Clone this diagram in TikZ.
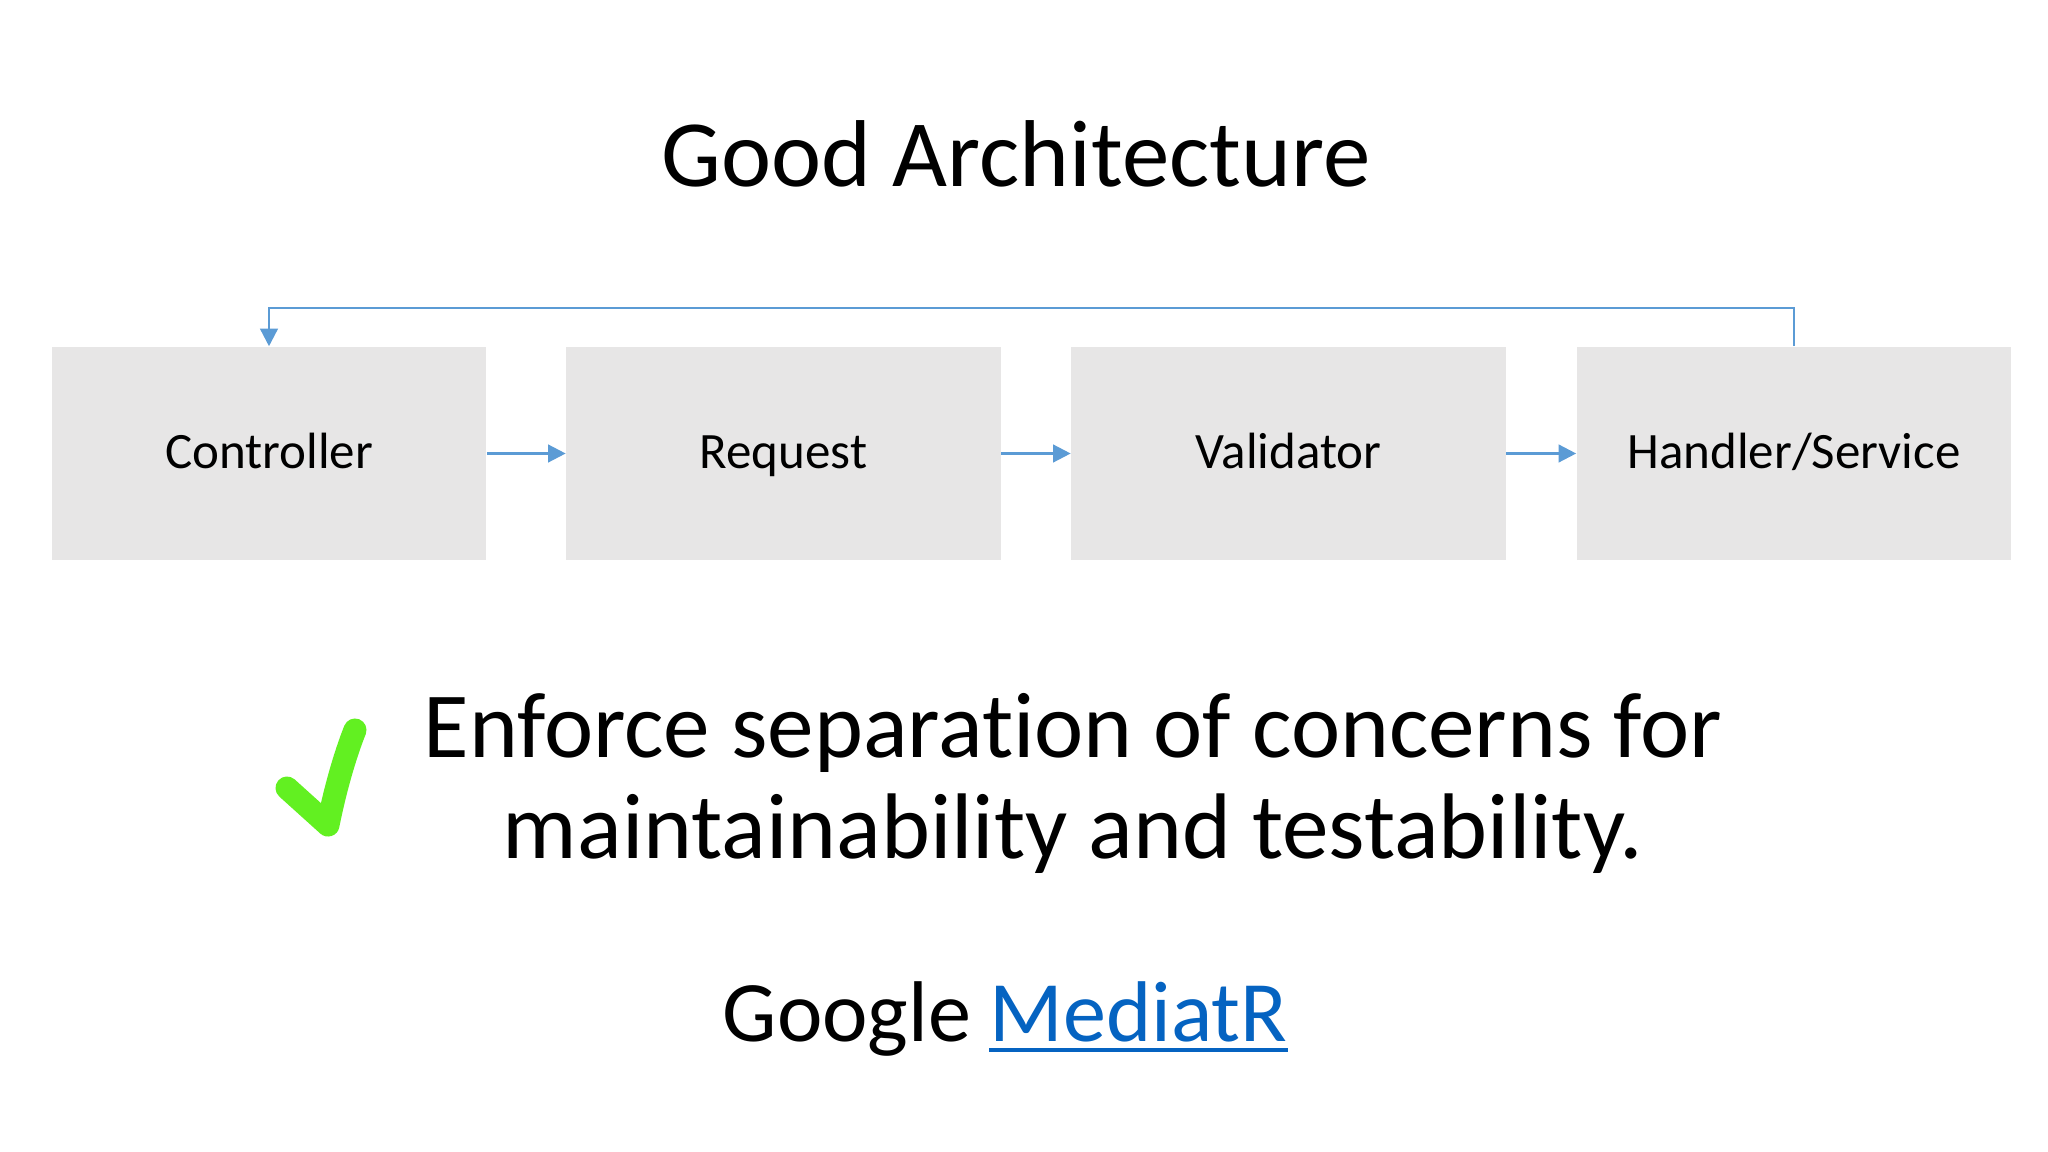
\documentclass[tikz,border=0pt]{standalone}
\usepackage{fontspec}
\setmainfont{Carlito}[Ligatures=NoCommon]
\usetikzlibrary{arrows.meta}
\definecolor{zgray}{HTML}{E7E6E6}
\definecolor{zblue}{HTML}{5B9BD5}
\definecolor{zlinkc}{HTML}{0563C1}
\definecolor{zgreen}{HTML}{62F021}

\begin{document}
\begin{tikzpicture}[x=.01cm, y=-.01cm, zbox/.style={fill=zgray, minimum width=4.34cm, minimum height=2.13cm, inner sep=0, text height=.3cm, text depth=0pt, font=\fontsize{14.5}{17}\selectfont}, zlink/.style={draw=zblue, line width=.7pt, -{Triangle[length=5pt, width=5pt]}}, ztxt/.style={anchor=base, inner sep=0, font=\fontsize{26.5}{32}\selectfont}]
  \useasboundingbox[fill=white] (0,0) rectangle (2048,1152);
  \node[anchor=base, inner sep=0, font=\fontsize{27}{32}\selectfont] (title) at (1016,187) {Good Architecture};
  \node[zbox] (ctrl) at (269,453.5) {Controller};
  \node[zbox] (req) at (783.5,453.5) {Request};
  \node[zbox] (val) at (1288.5,453.5) {Validator};
  \node[zbox] (hand) at (1794,453.5) {Handler/Service};
  \coordinate (top) at (0,308);
  \draw[zlink] (ctrl) -- (req);
  \draw[zlink] (req) -- (val);
  \draw[zlink] (val) -- (hand);
  \draw[zlink] (hand.north) -- (hand.north |- top) -| (ctrl.north);
  % check mark
  \draw[zgreen, line width=.23cm, line cap=round, line join=round] (287,788) -- (328,825) .. controls (335,790) and (345,755) .. (355,730);
  \node[ztxt] (line1) at (1073,757) {Enforce separation of concerns for};
  \node[ztxt] (line2) at (1073,858) {maintainability and testability.};
  \node[anchor=base west, inner sep=0, font=\fontsize{24.5}{30}\selectfont] (google) at (722,1041) {Google};
  \node[anchor=base west, inner sep=0, font=\fontsize{24.5}{30}\selectfont, text=zlinkc] (mediatr) at (989,1041) {MediatR};
  \draw[zlinkc, line width=.045cm] ([yshift=-.09cm]mediatr.base west) -- ([yshift=-.09cm]mediatr.base east);
\end{tikzpicture}
\end{document}
